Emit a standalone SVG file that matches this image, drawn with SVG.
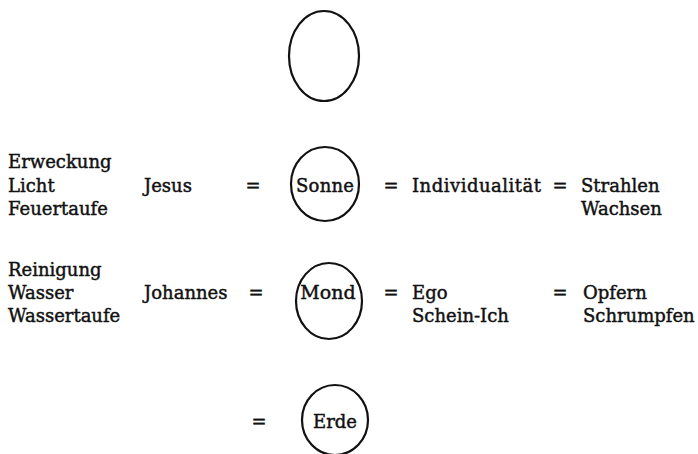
<svg xmlns="http://www.w3.org/2000/svg" width="698" height="454" viewBox="0 0 698 454">
<style>
  text { font-family: "DejaVu Serif", "Liberation Serif", serif; font-size: 18px; fill: #111; stroke: #111; stroke-width: 0.45px; }
  .c { text-anchor: middle; }
  .ring { fill: none; stroke: #111; stroke-width: 2.2; }
</style>
<rect width="698" height="454" fill="#ffffff"/>
<g id="top-circle">
  <ellipse class="ring" cx="324" cy="56" rx="35" ry="45"/>
</g>
<g id="row1-left">
  <text x="8" y="168">Erweckung</text>
  <text x="8" y="192">Licht</text>
  <text x="8" y="215">Feuertaufe</text>
</g>
<g id="jesus"><text x="144" y="192">Jesus</text></g>
<g id="sonne">
  <ellipse class="ring" cx="325" cy="184" rx="34" ry="37"/>
  <text class="c" x="325" y="192" textLength="58">Sonne</text>
</g>
<g id="individualitaet"><text x="412" y="192" textLength="129">Individualität</text></g>
<g id="strahlen">
  <text x="581" y="192">Strahlen</text>
  <text x="581" y="215">Wachsen</text>
</g>
<g id="row2-left">
  <text x="8" y="276">Reinigung</text>
  <text x="8" y="299">Wasser</text>
  <text x="8" y="322">Wassertaufe</text>
</g>
<g id="johannes"><text x="144" y="299">Johannes</text></g>
<g id="mond">
  <ellipse class="ring" cx="329" cy="301" rx="33" ry="38"/>
  <text class="c" x="328" y="299" style="font-size:19px">Mond</text>
</g>
<g id="ego">
  <text x="412" y="299">Ego</text>
  <text x="412" y="322">Schein-Ich</text>
</g>
<g id="opfern">
  <text x="583" y="299">Opfern</text>
  <text x="583" y="322">Schrumpfen</text>
</g>
<g id="erde">
  <ellipse class="ring" cx="335" cy="420" rx="33" ry="35"/>
  <text class="c" x="335" y="428">Erde</text>
</g>
<g id="connectors">
  <text class="c" x="253" y="192">=</text>
  <text class="c" x="391" y="192">=</text>
  <text class="c" x="560" y="192">=</text>
  <text class="c" x="256" y="299">=</text>
  <text class="c" x="391" y="299">=</text>
  <text class="c" x="560" y="299">=</text>
  <text class="c" x="259" y="428">=</text>
</g>
</svg>
